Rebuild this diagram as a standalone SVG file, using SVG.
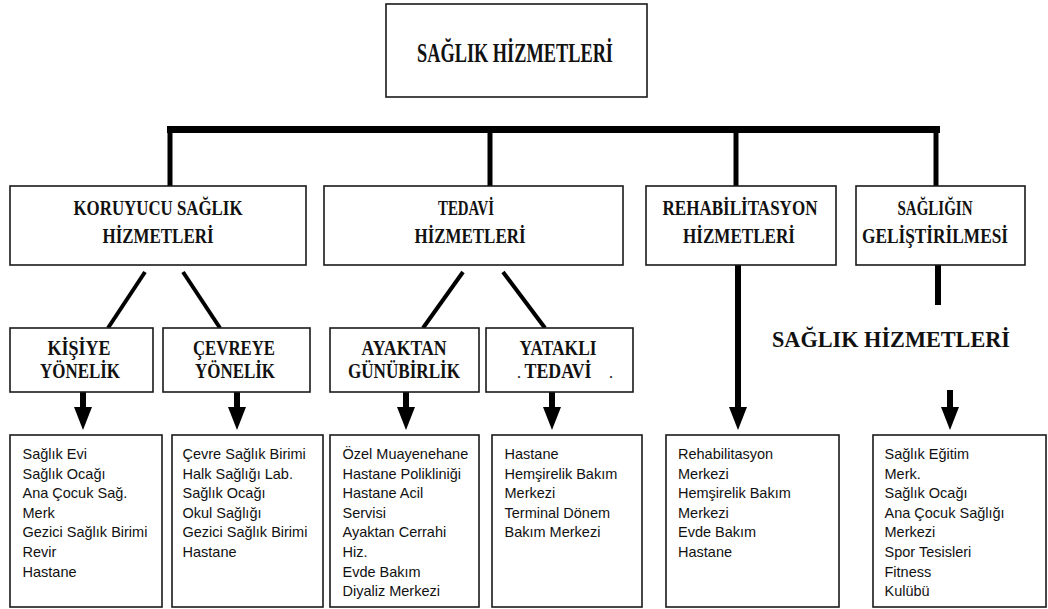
<svg xmlns="http://www.w3.org/2000/svg" width="1048" height="609" viewBox="0 0 1048 609">
<style>
.box{fill:#fff;stroke:#1a1a1a;stroke-width:1.6}
.hd{font-family:"Liberation Serif","Times New Roman",serif;font-weight:bold;fill:#111;text-anchor:middle}
.lf{font-family:"Liberation Sans",Arial,sans-serif;font-size:14.5px;fill:#111}
.thick{stroke:#000;stroke-width:5;fill:none}
.diag{stroke:#000;stroke-width:4;fill:none}
.shaft{stroke:#000;stroke-width:6;fill:none}
</style>
<defs>
<path id="head" d="M-9,0 L9,0 L0,23 Z" fill="#000"/>
</defs>
<rect x="0" y="0" width="1048" height="609" fill="#fff"/>

<g id="connectors">
<rect x="167" y="126" width="773" height="7" fill="#000"/>
<line class="thick" x1="170" y1="129" x2="170" y2="186"/>
<line class="thick" x1="490" y1="129" x2="490" y2="186"/>
<line class="thick" x1="736" y1="129" x2="736" y2="186"/>
<line class="thick" x1="936" y1="129" x2="936" y2="186"/>
<line class="diag" x1="145" y1="272" x2="108" y2="328"/>
<line class="diag" x1="183" y1="272" x2="220" y2="328"/>
<line class="diag" x1="463" y1="272" x2="423" y2="328"/>
<line class="diag" x1="503" y1="272" x2="545" y2="328"/>
<line class="shaft" x1="83" y1="392" x2="83" y2="408"/>
<use href="#head" x="83" y="407"/>
<line class="shaft" x1="237" y1="392" x2="237" y2="408"/>
<use href="#head" x="237" y="407"/>
<line class="shaft" x1="406" y1="392" x2="406" y2="408"/>
<use href="#head" x="406" y="407"/>
<line class="shaft" x1="552" y1="392" x2="552" y2="408"/>
<use href="#head" x="552" y="407"/>
<line class="shaft" x1="738" y1="265" x2="738" y2="408"/>
<use href="#head" x="738" y="407"/>
<line class="shaft" x1="938" y1="265" x2="938" y2="305"/>
<line class="shaft" x1="950" y1="390" x2="950" y2="408"/>
<use href="#head" x="950" y="407"/>
</g>

<g id="n-root">
<rect class="box" x="386" y="4" width="261" height="93"/>
<text class="hd" x="515" y="62" font-size="27" textLength="196" lengthAdjust="spacingAndGlyphs">SAĞLIK HİZMETLERİ</text>
</g>

<g id="n-koruyucu">
<rect class="box" x="10" y="186" width="296" height="79"/>
<text class="hd" x="158" y="215" font-size="21" textLength="169" lengthAdjust="spacingAndGlyphs">KORUYUCU SAĞLIK</text>
<text class="hd" x="158" y="243" font-size="21" textLength="111" lengthAdjust="spacingAndGlyphs">HİZMETLERİ</text>
</g>
<g id="n-tedavi">
<rect class="box" x="324" y="186" width="299" height="79"/>
<text class="hd" x="466" y="215" font-size="21" textLength="56" lengthAdjust="spacingAndGlyphs">TEDAVİ</text>
<text class="hd" x="470" y="243" font-size="21" textLength="111" lengthAdjust="spacingAndGlyphs">HİZMETLERİ</text>
</g>
<g id="n-rehab">
<rect class="box" x="646" y="186" width="190" height="79"/>
<text class="hd" x="740" y="215" font-size="21" textLength="155" lengthAdjust="spacingAndGlyphs">REHABİLİTASYON</text>
<text class="hd" x="739" y="243" font-size="21" textLength="112" lengthAdjust="spacingAndGlyphs">HİZMETLERİ</text>
</g>
<g id="n-gelistirme">
<rect class="box" x="856" y="186" width="169" height="79"/>
<text class="hd" x="935" y="215" font-size="21" textLength="75" lengthAdjust="spacingAndGlyphs">SAĞLIĞIN</text>
<text class="hd" x="935" y="243" font-size="21" textLength="146" lengthAdjust="spacingAndGlyphs">GELİŞTİRİLMESİ</text>
</g>

<g id="n-kisiye">
<rect class="box" x="10" y="328" width="143" height="64"/>
<text class="hd" x="79" y="355" font-size="20" textLength="63" lengthAdjust="spacingAndGlyphs">KİŞİYE</text>
<text class="hd" x="80" y="378" font-size="20" textLength="80" lengthAdjust="spacingAndGlyphs">YÖNELİK</text>
</g>
<g id="n-cevreye">
<rect class="box" x="163" y="328" width="147" height="64"/>
<text class="hd" x="234" y="355" font-size="20" textLength="82" lengthAdjust="spacingAndGlyphs">ÇEVREYE</text>
<text class="hd" x="235" y="378" font-size="20" textLength="80" lengthAdjust="spacingAndGlyphs">YÖNELİK</text>
</g>
<g id="n-ayaktan">
<rect class="box" x="330" y="328" width="149" height="64"/>
<text class="hd" x="404" y="355" font-size="20" textLength="85" lengthAdjust="spacingAndGlyphs">AYAKTAN</text>
<text class="hd" x="404" y="378" font-size="20" textLength="112" lengthAdjust="spacingAndGlyphs">GÜNÜBİRLİK</text>
</g>
<g id="n-yatakli">
<rect class="box" x="486" y="328" width="147" height="64"/>
<text class="hd" x="558" y="355" font-size="20" textLength="77" lengthAdjust="spacingAndGlyphs">YATAKLI</text>
<text class="hd" x="558" y="378" font-size="20" textLength="67" lengthAdjust="spacingAndGlyphs">TEDAVİ</text>
<text class="hd" x="519" y="378" font-size="12">.</text>
<text class="hd" x="611" y="378" font-size="12">.</text>
</g>

<g id="n-saglik-label">
<text class="hd" x="891" y="347" font-size="23" textLength="238" lengthAdjust="spacingAndGlyphs">SAĞLIK  HİZMETLERİ</text>
</g>

<g id="n-list-kisiye">
<rect class="box" x="10" y="435" width="152" height="172"/>
<text class="lf"><tspan x="22.5" y="459">Sağlık Evi</tspan><tspan x="22.5" y="478.6">Sağlık Ocağı</tspan><tspan x="22.5" y="498.2">Ana Çocuk Sağ.</tspan><tspan x="22.5" y="517.8">Merk</tspan><tspan x="22.5" y="537.4">Gezici Sağlık Birimi</tspan><tspan x="22.5" y="557">Revir</tspan><tspan x="22.5" y="576.6">Hastane</tspan></text>
</g>
<g id="n-list-cevreye">
<rect class="box" x="172" y="435" width="151" height="172"/>
<text class="lf"><tspan x="182.5" y="459">Çevre Sağlık Birimi</tspan><tspan x="182.5" y="478.6">Halk Sağlığı Lab.</tspan><tspan x="182.5" y="498.2">Sağlık Ocağı</tspan><tspan x="182.5" y="517.8">Okul Sağlığı</tspan><tspan x="182.5" y="537.4">Gezici Sağlık Birimi</tspan><tspan x="182.5" y="557">Hastane</tspan></text>
</g>
<g id="n-list-ayaktan">
<rect class="box" x="330" y="435" width="149" height="172"/>
<text class="lf"><tspan x="342.5" y="459">Özel Muayenehane</tspan><tspan x="342.5" y="478.6">Hastane Polikliniği</tspan><tspan x="342.5" y="498.2">Hastane Acil</tspan><tspan x="342.5" y="517.8">Servisi</tspan><tspan x="342.5" y="537.4">Ayaktan Cerrahi</tspan><tspan x="342.5" y="557">Hiz.</tspan><tspan x="342.5" y="576.6">Evde Bakım</tspan><tspan x="342.5" y="596.2">Diyaliz Merkezi</tspan></text>
</g>
<g id="n-list-yatakli">
<rect class="box" x="492" y="435" width="150" height="172"/>
<text class="lf"><tspan x="504.5" y="459">Hastane</tspan><tspan x="504.5" y="478.6">Hemşirelik Bakım</tspan><tspan x="504.5" y="498.2">Merkezi</tspan><tspan x="504.5" y="517.8">Terminal Dönem</tspan><tspan x="504.5" y="537.4">Bakım Merkezi</tspan></text>
</g>
<g id="n-list-rehab">
<rect class="box" x="666" y="435" width="173" height="172"/>
<text class="lf"><tspan x="678" y="459">Rehabilitasyon</tspan><tspan x="678" y="478.6">Merkezi</tspan><tspan x="678" y="498.2">Hemşirelik Bakım</tspan><tspan x="678" y="517.8">Merkezi</tspan><tspan x="678" y="537.4">Evde Bakım</tspan><tspan x="678" y="557">Hastane</tspan></text>
</g>
<g id="n-list-gelistirme">
<rect class="box" x="873" y="435" width="173" height="172"/>
<text class="lf"><tspan x="884.5" y="459">Sağlık Eğitim</tspan><tspan x="884.5" y="478.6">Merk.</tspan><tspan x="884.5" y="498.2">Sağlık Ocağı</tspan><tspan x="884.5" y="517.8">Ana Çocuk Sağlığı</tspan><tspan x="884.5" y="537.4">Merkezi</tspan><tspan x="884.5" y="557">Spor Tesisleri</tspan><tspan x="884.5" y="576.6">Fitness</tspan><tspan x="884.5" y="596.2">Kulübü</tspan></text>
</g>
</svg>
